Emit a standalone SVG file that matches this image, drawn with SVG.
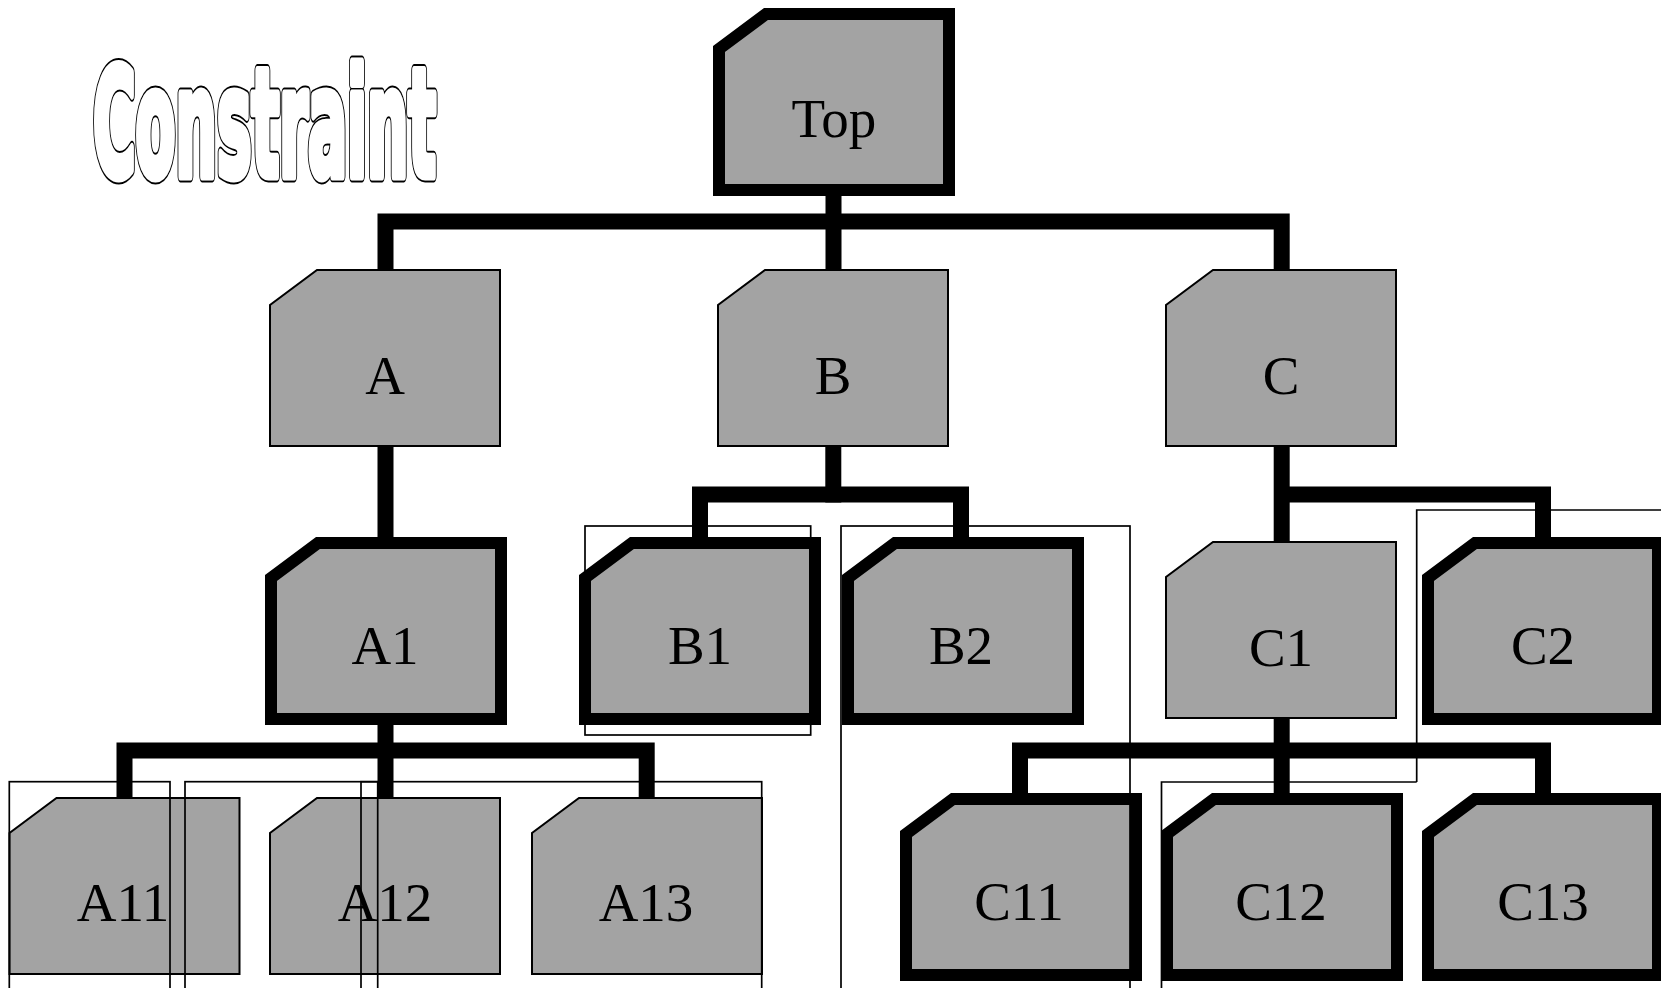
<svg xmlns="http://www.w3.org/2000/svg" xmlns:xlink="http://www.w3.org/1999/xlink" width="1661" height="988" viewBox="0 0 1661 988">
<style>
.thin{fill:#a3a3a3;stroke:#000;stroke-width:2;stroke-linejoin:miter}
.thick{fill:#a3a3a3;stroke:#000;stroke-width:12;stroke-linejoin:miter}
.lbl{font-family:"Liberation Serif","Times New Roman",serif;font-size:55px;text-anchor:middle;fill:#000}
.conn{fill:none;stroke:#000;stroke-width:16;stroke-linejoin:miter;stroke-linecap:butt}
.frame{fill:none;stroke:#000;stroke-width:1.7}
.ttl{font-family:"DejaVu Sans Condensed","DejaVu Sans",sans-serif;font-stretch:condensed;font-weight:bold;font-size:63px}
</style>
<defs>
<path id="shape" d="M47,0 H230 V176 H0 V35 Z"/>
</defs>
<rect width="1661" height="988" fill="#fff"/>
<g id="title">
<text class="ttl" transform="translate(93,176) scale(1.025,2.38)" fill="#fff" stroke="#000" stroke-width="10" stroke-linejoin="round" vector-effect="non-scaling-stroke">Constraint</text>
<text class="ttl" transform="translate(93,176) scale(1.025,2.38)" fill="#fff" stroke="#fff" stroke-width="7" stroke-linejoin="round" vector-effect="non-scaling-stroke">Constraint</text>
</g>
<g id="connectors">
<path class="conn" d="M385.5,270 V221.5 H1281.7 V270"/>
<path class="conn" d="M833.5,196 V270"/>
<path class="conn" d="M385.5,446 V537"/>
<path class="conn" d="M833.3,446 V502.5"/>
<path class="conn" d="M700,537 V494.5 H961 V537"/>
<path class="conn" d="M1281.7,446 V542"/>
<path class="conn" d="M1281.7,494.5 H1543 V537"/>
<path class="conn" d="M385.5,724 V798"/>
<path class="conn" d="M124.5,798 V750.5 H646.7 V798"/>
<path class="conn" d="M1281.7,718 V793"/>
<path class="conn" d="M1020,793 V750.5 H1543 V793"/>
</g>
<g id="node-top"><use xlink:href="#shape" class="thick" x="719" y="14"/><text class="lbl" x="834" y="137">Top</text></g>
<g id="node-A"><use xlink:href="#shape" class="thin" x="270" y="270"/><text class="lbl" x="385" y="394">A</text></g>
<g id="node-B"><use xlink:href="#shape" class="thin" x="718" y="270"/><text class="lbl" x="833" y="394">B</text></g>
<g id="node-C"><use xlink:href="#shape" class="thin" x="1166" y="270"/><text class="lbl" x="1281" y="394">C</text></g>
<g id="node-A1"><use xlink:href="#shape" class="thick" x="271" y="543"/><text class="lbl" x="385" y="664">A1</text></g>
<g id="node-B1"><use xlink:href="#shape" class="thick" x="585" y="543"/><text class="lbl" x="700" y="664">B1</text></g>
<g id="node-B2"><use xlink:href="#shape" class="thick" x="848" y="543"/><text class="lbl" x="961" y="664">B2</text></g>
<g id="node-C1"><use xlink:href="#shape" class="thin" x="1166" y="542"/><text class="lbl" x="1281" y="666">C1</text></g>
<g id="node-C2"><use xlink:href="#shape" class="thick" x="1428" y="543"/><text class="lbl" x="1543" y="664">C2</text></g>
<g id="node-A11"><use xlink:href="#shape" class="thin" x="9.5" y="798"/><text class="lbl" x="123" y="921">A11</text></g>
<g id="node-A12"><use xlink:href="#shape" class="thin" x="270" y="798"/><text class="lbl" x="385" y="921">A12</text></g>
<g id="node-A13"><use xlink:href="#shape" class="thin" x="532" y="798"/><text class="lbl" x="646" y="921">A13</text></g>
<g id="node-C11"><use xlink:href="#shape" class="thick" x="906" y="799"/><text class="lbl" x="1019" y="920">C11</text></g>
<g id="node-C12"><use xlink:href="#shape" class="thick" x="1167" y="799"/><text class="lbl" x="1281" y="920">C12</text></g>
<g id="node-C13"><use xlink:href="#shape" class="thick" x="1428" y="799"/><text class="lbl" x="1543" y="920">C13</text></g>
<g id="frames">
<rect class="frame" x="9.3" y="781.7" width="160.7" height="300"/>
<rect class="frame" x="185" y="781.7" width="576.7" height="300"/>
<rect class="frame" x="361" y="781.7" width="16.7" height="300"/>
<rect class="frame" x="585" y="526" width="225.7" height="209"/>
<rect class="frame" x="841" y="526" width="289" height="500"/>
<path class="frame" d="M1416.7,782 V510 H1670"/>
<path class="frame" d="M1161.5,995 V782 H1416.7"/>
</g>
</svg>
